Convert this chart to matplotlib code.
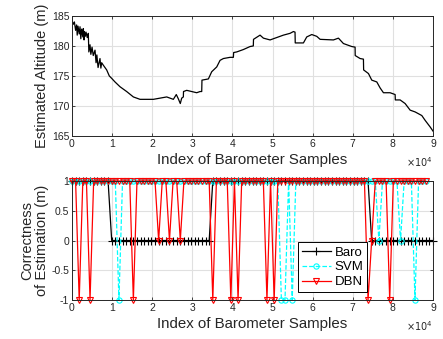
import matplotlib
matplotlib.use("Agg")
import matplotlib.pyplot as plt
import numpy as np

plt.rcParams["font.family"] = ["Liberation Sans", "DejaVu Sans"]

# --- top panel: estimated altitude (x in units of 1e4 samples, altitude in m)
alt_x = [0.0, 0.03, 0.06, 0.09, 0.116, 0.13, 0.15, 0.18, 0.2, 0.22, 0.24,
         0.27, 0.283, 0.30, 0.31, 0.33, 0.35, 0.38, 0.407, 0.42, 0.449, 0.47,
         0.5, 0.53, 0.574, 0.60, 0.62, 0.65, 0.698, 0.72, 0.74, 0.78, 0.865,
         0.93, 0.989, 1.072, 1.197, 1.363, 1.53, 1.696, 1.862, 2.028, 2.195,
         2.361, 2.527, 2.6, 2.65, 2.70, 2.735, 2.776, 2.78, 2.86, 3.109, 3.192,
         3.234, 3.24, 3.4, 3.483, 3.608, 3.691, 3.774, 3.94, 4.023, 4.03, 4.106,
         4.273, 4.439, 4.52, 4.525, 4.688, 4.771, 4.938, 5.104, 5.27, 5.436,
         5.52, 5.56, 5.565, 5.769, 5.852, 5.977, 6.101, 6.185, 6.517, 6.642,
         6.766, 6.974, 7.057, 7.06, 7.182, 7.265, 7.27, 7.39, 7.473, 7.598,
         7.681, 7.764, 7.93, 8.055, 8.06, 8.18, 8.304, 8.429, 8.554, 8.72,
         8.803, 8.928, 9.0]
alt_y = [184.3, 183.6, 184.0, 182.6, 183.5, 181.8, 183.3, 182.0, 183.2, 181.2, 182.8,
         181.5, 182.9, 181.0, 182.4, 181.6, 182.3, 181.4, 182.1, 179.0, 180.2, 178.6,
         179.8, 178.4, 179.3, 177.2, 178.5, 176.4, 177.9, 176.3, 177.2, 176.8, 176.0,
         175.0, 174.6, 174.0, 173.2, 172.4, 171.5, 171.1, 171.1, 171.1, 171.3,
         171.5, 171.1, 171.9, 171.2, 170.4, 171.3, 171.5, 172.4, 172.6, 172.2, 172.4,
         172.4, 174.3, 174.5, 175.7, 176.5, 177.6, 177.9, 178.1, 178.1, 178.9, 179.0,
         179.4, 179.9, 180.0, 181.1, 181.8, 181.3, 181.0, 181.4, 181.8, 182.1,
         182.4, 182.3, 180.5, 180.5, 181.5, 181.9, 181.6, 181.1, 181.0, 181.3,
         180.4, 179.9, 179.8, 178.4, 177.9, 177.8, 176.0, 175.4, 174.3, 174.0,
         173.0, 172.2, 172.2, 171.9, 171.0, 171.0, 170.4, 169.3, 169.0, 168.4,
         167.6, 166.5, 165.8]

# --- bottom panel: correctness per evaluated sample (every 900 samples)
step = 900
n_pts = 101
baro_zero_ranges = [(11, 38), (83, 100)]
dbn_minus_one = [2, 5, 17, 39, 44, 46, 54, 56, 82, 88]
dbn_zero = [24, 27, 30, 83]
svm_minus_one = [13, 58, 59, 61, 95]
svm_zero = [85, 91]
n_cls = 99  # SVM / DBN outputs stop slightly before the end

x_idx = np.arange(n_pts) * step
baro = np.ones(n_pts)
for a, b in baro_zero_ranges:
    baro[a:b + 1] = 0
dbn = np.ones(n_cls)
dbn[dbn_minus_one] = -1
dbn[dbn_zero] = 0
svm = np.ones(n_cls)
svm[svm_minus_one] = -1
svm[svm_zero] = 0

fig = plt.figure(figsize=(4.43, 3.39), dpi=100)
ax1 = fig.add_axes([0.1625, 0.599, 0.815, 0.354])
ax2 = fig.add_axes([0.1625, 0.115, 0.815, 0.351])

ax1.plot(np.array(alt_x) * 1e4, alt_y, color="black", lw=0.9)
ax1.set_ylim(165, 185)
ax1.set_yticks([165, 170, 175, 180, 185])
ax1.set_ylabel("Estimated Altitude (m)", fontsize=10.5, labelpad=2)

ax2.plot(x_idx, baro, color="black", lw=0.9, marker="+", ms=5.5, mew=0.8,
         label="Baro", clip_on=False)
ax2.plot(x_idx[:n_cls], svm, color="cyan", lw=0.9, ls="--", marker="o", ms=3.8,
         mfc="none", mew=0.8, label="SVM", clip_on=False)
ax2.plot(x_idx[:n_cls], dbn, color="red", lw=0.9, marker="v", ms=4.5,
         mfc="none", mew=0.8, label="DBN", clip_on=False)
ax2.set_ylim(-1, 1)
ax2.set_yticks([-1, -0.5, 0, 0.5, 1])
ax2.set_yticklabels(["-1", "-0.5", "0", "0.5", "1"])
ax2.set_ylabel("Correctness\nof Estimation (m)", fontsize=10.5, labelpad=2,
               linespacing=1.0)
leg = ax2.legend(loc="lower left", bbox_to_anchor=(0.625, 0.065), fontsize=9.5,
                 fancybox=False, framealpha=1, edgecolor="black",
                 borderpad=0.3, labelspacing=0.2, handlelength=2.2,
                 handletextpad=0.3, borderaxespad=0)
leg.get_frame().set_linewidth(0.7)

for ax in (ax1, ax2):
    ax.set_xlim(0, 90000)
    ax.set_xticks(np.arange(0, 90001, 10000))
    ax.set_xticklabels([str(i) for i in range(10)])
    ax.grid(True, color="#e0e0e0", lw=0.8)
    ax.set_axisbelow(True)
    ax.tick_params(direction="in", length=2.5, width=0.6, labelsize=7.5,
                   top=True, right=True, pad=2, colors="#262626")
    for s in ax.spines.values():
        s.set_linewidth(0.7)
        s.set_color("#262626")
    ax.set_xlabel("Index of Barometer Samples", fontsize=10.8, labelpad=3,
                  color="#262626")
    ax.yaxis.label.set_color("#262626")
    ax.text(1.0, -0.22, r"$\times10^4$", transform=ax.transAxes, ha="right",
            va="center", fontsize=7, color="#262626")

fig.savefig("out.png", dpi=100)
